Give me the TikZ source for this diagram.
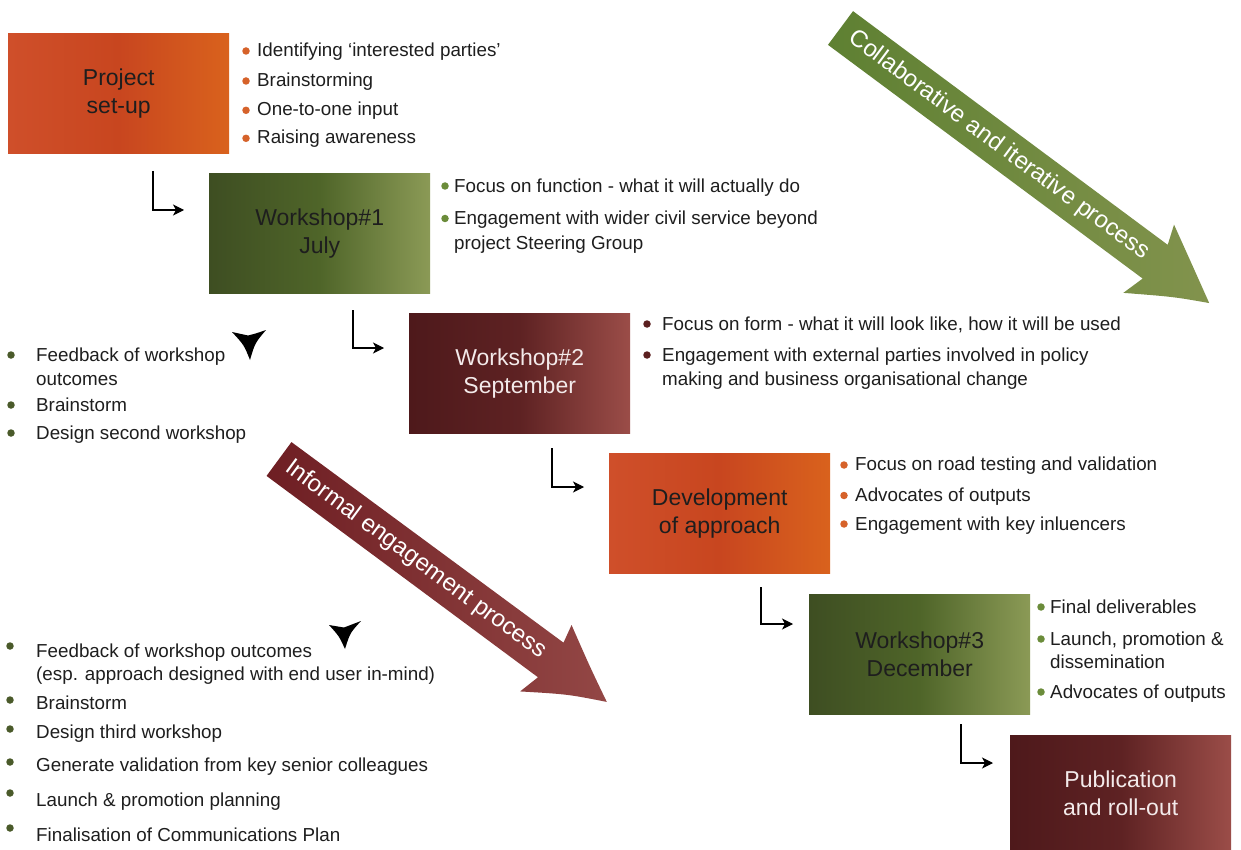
\documentclass[tikz,border=0pt]{standalone}
\usepackage{fontspec}
\setmainfont{Liberation Sans}
\usetikzlibrary{arrows.meta}
\definecolor{orA}{HTML}{CF4F2A}
\definecolor{orB}{HTML}{C8461F}
\definecolor{orC}{HTML}{D9621D}
\definecolor{grA}{HTML}{3E4E22}
\definecolor{grB}{HTML}{4F6529}
\definecolor{grC}{HTML}{8B9A56}
\definecolor{mrA}{HTML}{4E191B}
\definecolor{mrB}{HTML}{5E2223}
\definecolor{mrC}{HTML}{9B4D48}
\definecolor{txt}{HTML}{1E1E1E}
\definecolor{ltxt}{HTML}{F3EAEA}
\definecolor{dotO}{HTML}{D6622A}
\definecolor{dotG}{HTML}{6B8C3A}
\definecolor{dotM}{HTML}{5B1F20}
\definecolor{dotD}{HTML}{4A5A2A}
\definecolor{arGa}{HTML}{5E8032}
\definecolor{arGb}{HTML}{82934D}
\definecolor{arRa}{HTML}{6E1E23}
\definecolor{arRb}{HTML}{934745}
\begin{document}
\begin{tikzpicture}[x=1pt,y=-1pt,
  stage/.style={anchor=north west, minimum width=221pt, minimum height=120pt, inner sep=0pt, align=center, font=\fontsize{23}{28}\selectfont},
  orangebox/.style={stage, left color=orA, right color=orC, middle color=orB, text=txt},
  greenbox/.style={stage, left color=grA, right color=grC, middle color=grB, text=txt},
  maroonbox/.style={stage, left color=mrA, right color=mrC, middle color=mrB, text=ltxt},
  item/.style={anchor=base west, inner sep=0pt, font=\fontsize{18.8}{24}\selectfont, text=txt},
  dot/.style={circle, inner sep=0pt, minimum size=7.5pt},
  elbow/.style={line width=1.1pt, -{Stealth[length=11pt,width=11pt,inset=3pt]}},
  bigtext/.style={text=white, font=\fontsize{24}{28}\selectfont, inner sep=0pt}
]
\useasboundingbox (0,0) rectangle (1241,850);
\fill[white] (0,0) rectangle (1241,850);

% big process arrows
\begin{scope}[shift={(840.5,28)}, rotate=-36.6]
  \shade[left color=arGa, right color=arGb] (0,-21) -- (392,-21) -- (385,-41) .. controls (428,-17) .. (460,1) .. controls (428,17) .. (385,44) -- (392,21) -- (0,21) -- cycle;
  \node[bigtext, rotate=-36.6] (collab) at (197,0) {Collaborative and iterative process};
\end{scope}
\begin{scope}[shift={(279,459)}, rotate=-36.4]
  \shade[left color=arRa, right color=arRb] (0,-21) -- (338,-21) -- (334,-40) .. controls (374,-17) .. (408,1) .. controls (372,18) .. (332,44) -- (338,22) -- (0,21) -- cycle;
  \node[bigtext, rotate=-36.4] (informal) at (170,0) {Informal engagement process};
\end{scope}

% stage boxes
\node[orangebox] (setup) at (8,33) {Project\\set-up};
\node[greenbox] (ws1) at (209,173) {Workshop\#1\\July};
\node[maroonbox] (ws2) at (409,313) {Workshop\#2\\September};
\node[orangebox] (dev) at (609,453) {Development\\of approach};
\node[greenbox] (ws3) at (809,594) {Workshop\#3\\December};
\node[maroonbox, minimum height=116pt] (pub) at (1010,735) {Publication\\and roll-out};

% elbow arrows
\coordinate (e1s) at (153,171); \coordinate (e1e) at (184,210);
\coordinate (e2s) at (353,310); \coordinate (e2e) at (384,348);
\coordinate (e3s) at (552,448); \coordinate (e3e) at (584,487);
\coordinate (e4s) at (761,587); \coordinate (e4e) at (793,624);
\coordinate (e5s) at (961,724); \coordinate (e5e) at (993,763);
\draw[elbow] (e1s) |- (e1e);
\draw[elbow] (e2s) |- (e2e);
\draw[elbow] (e3s) |- (e3e);
\draw[elbow] (e4s) |- (e4e);
\draw[elbow] (e5s) |- (e5e);

% black chevrons
\fill[black] (232,332) .. controls (240,334.5) .. (248,335.5) .. controls (256,333.5) .. (266,330)
  .. controls (255,343) .. (250,360) .. controls (244,345) .. cycle;
\fill[black] (329,625) .. controls (336,627) .. (344,627.5) .. controls (352,625) .. (361,621)
  .. controls (350,633) .. (345,649) .. controls (339,636) .. cycle;

% list: project set-up
\node[dot, fill=dotO] (d1a) at (246,51) {};
\node[dot, fill=dotO] (d1b) at (246,81) {};
\node[dot, fill=dotO] (d1c) at (246,110.3) {};
\node[dot, fill=dotO] (d1d) at (246,138.3) {};
\node[item] (t1a) at (257,56.7) {Identifying ‘interested parties’};
\node[item] (t1b) at (257,86.7) {Brainstorming};
\node[item] (t1c) at (257,116) {One-to-one input};
\node[item] (t1d) at (257,144) {Raising awareness};

% list: workshop 1
\node[dot, fill=dotG] (d2a) at (445,186) {};
\node[dot, fill=dotG] (d2b) at (445,218.5) {};
\node[item] (t2a) at (454,192.7) {Focus on function - what it will actually do};
\node[item] (t2b) at (454,225) {Engagement with wider civil service beyond};
\node[item] (t2c) at (454,249.5) {project Steering Group};

% list: workshop 2
\node[dot, fill=dotM] (d3a) at (647,324) {};
\node[dot, fill=dotM] (d3b) at (647,355) {};
\node[item] (t3a) at (662,330) {Focus on form - what it will look like, how it will be used};
\node[item] (t3b) at (662,361.5) {Engagement with external parties involved in policy};
\node[item] (t3c) at (662,385.5) {making and business organisational change};

% list: development
\node[dot, fill=dotO] (d4a) at (844,465) {};
\node[dot, fill=dotO] (d4b) at (844,495.5) {};
\node[dot, fill=dotO] (d4c) at (844,524) {};
\node[item] (t4a) at (855,470.7) {Focus on road testing and validation};
\node[item] (t4b) at (855,501) {Advocates of outputs};
\node[item] (t4c) at (855,530) {Engagement with key inluencers};

% list: workshop 3
\node[dot, fill=dotG] (d5a) at (1041,607) {};
\node[dot, fill=dotG] (d5b) at (1041,639) {};
\node[dot, fill=dotG] (d5c) at (1041,692) {};
\node[item] (t5a) at (1050,613.3) {Final deliverables};
\node[item] (t5b) at (1050,645) {Launch, promotion \&};
\node[item] (t5c) at (1050,668.3) {dissemination};
\node[item] (t5d) at (1050,698.3) {Advocates of outputs};

% left list 1
\node[dot, fill=dotD] (d6a) at (11,355) {};
\node[dot, fill=dotD] (d6b) at (11,405) {};
\node[dot, fill=dotD] (d6c) at (11,433) {};
\node[item] (t6a) at (36,361.7) {Feedback of workshop};
\node[item] (t6b) at (36,385) {outcomes};
\node[item] (t6c) at (36,411.7) {Brainstorm};
\node[item] (t6d) at (36,439.5) {Design second workshop};

% left list 2
\node[dot, fill=dotD] (d7a) at (10,646) {};
\node[dot, fill=dotD] (d7b) at (10,700) {};
\node[dot, fill=dotD] (d7c) at (10,729) {};
\node[dot, fill=dotD] (d7d) at (10,762) {};
\node[dot, fill=dotD] (d7e) at (10,793) {};
\node[dot, fill=dotD] (d7f) at (10,828) {};
\node[item] (t7a) at (36,657.5) {Feedback of workshop outcomes};
\node[item] (t7b) at (36,680.5) {(esp. approach designed with end user in-mind)};
\node[item] (t7c) at (36,709.5) {Brainstorm};
\node[item] (t7d) at (36,738.5) {Design third workshop};
\node[item] (t7e) at (36,771.5) {Generate validation from key senior colleagues};
\node[item] (t7f) at (36,806.5) {Launch \& promotion planning};
\node[item] (t7g) at (36,841.5) {Finalisation of Communications Plan};
\end{tikzpicture}
\end{document}
